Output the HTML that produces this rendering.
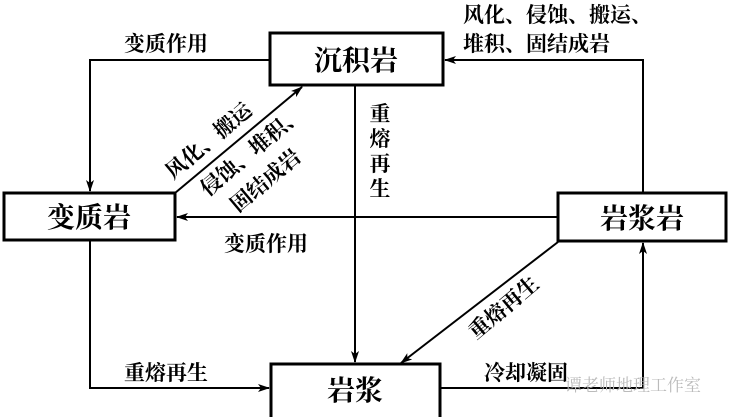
<!DOCTYPE html>
<html><head><meta charset="utf-8"><style>
html,body{margin:0;padding:0;background:#fff;width:733px;height:417px;overflow:hidden}
svg{display:block}
text{font-family:"Liberation Serif","Noto Serif CJK SC",serif;fill:#000}
</style></head><body>
<svg width="733" height="417" viewBox="0 0 733 417">
<defs><marker id="a" markerWidth="12" markerHeight="8" refX="11" refY="4" orient="auto" markerUnits="userSpaceOnUse"><path d="M0,0 L12,4 L0,8 L3,4 Z" fill="#000"/></marker></defs>
<g fill="none" stroke="#000" stroke-width="2">
<rect x="270" y="33" width="173" height="52" stroke-width="3"/>
<rect x="4" y="193" width="171" height="47" stroke-width="3"/>
<rect x="558" y="193" width="168" height="48" stroke-width="3"/>
<rect x="271" y="364" width="169" height="60" stroke-width="3"/>
<polyline points="270,60 90,60 90,191" marker-end="url(#a)"/>
<polyline points="643,193 643,60 445,60" marker-end="url(#a)"/>
<line x1="355" y1="86" x2="355" y2="362" marker-end="url(#a)"/>
<line x1="558" y1="217" x2="177" y2="217" marker-end="url(#a)"/>
<line x1="175" y1="193" x2="302" y2="87" marker-end="url(#a)"/>
<line x1="558" y1="242" x2="401" y2="363" marker-end="url(#a)"/>
<polyline points="90,240 90,388 269,388" marker-end="url(#a)"/>
<polyline points="440,388 643,388 643,243" marker-end="url(#a)"/>
</g>
<g font-size="28" font-weight="bold" text-anchor="middle">
<text x="356" y="70">沉积岩</text>
<text x="89" y="227">变质岩</text>
<text x="642" y="228">岩浆岩</text>
<text x="355" y="400">岩浆</text>
</g>
<g font-size="21" font-weight="bold">
<text x="124" y="51">变质作用</text>
<text x="463" y="22">风化、侵蚀、搬运、</text>
<text x="463" y="51">堆积、固结成岩</text>
<text x="224" y="251">变质作用</text>
<text x="124" y="380">重熔再生</text>
<text x="484" y="380">冷却凝固</text>
<g text-anchor="middle"><text x="380" y="121">重</text><text x="380" y="146">熔</text><text x="380" y="171">再</text><text x="380" y="196">生</text></g>
<text transform="translate(173,180) rotate(-40)">风化、搬运</text>
<text transform="translate(208,197) rotate(-40)">侵蚀、堆积、</text>
<text transform="translate(238,213) rotate(-40)">固结成岩</text>
<text transform="translate(476,340) rotate(-40)">重熔再生</text>
</g>
<text x="565" y="391" font-size="17" style="fill:#bbb">谭老师地理工作室</text>
</svg>
</body></html>
